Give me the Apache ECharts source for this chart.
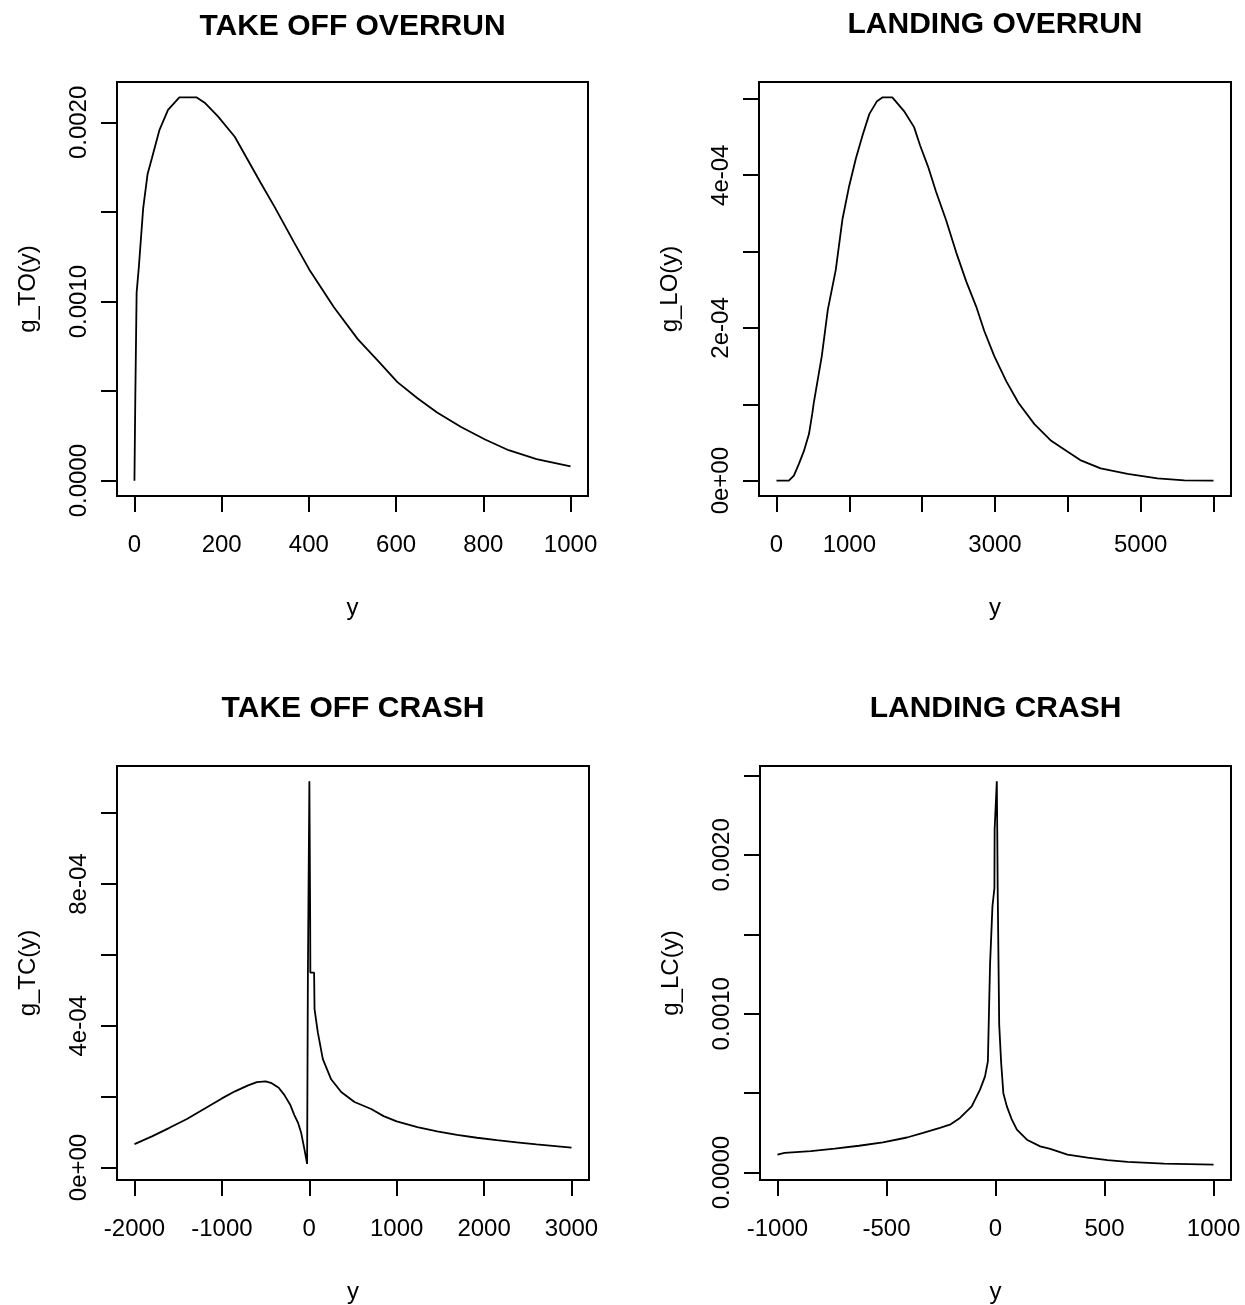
<!DOCTYPE html>
<html><head><meta charset="utf-8">
<script src="https://cdn.jsdelivr.net/npm/echarts@6/dist/echarts.min.js"></script>
<style>html,body{margin:0;padding:0;background:#fff}#c{width:1245px;height:1305px}</style>
</head><body><div id="c"></div>
<script>
// ---- TAKE OFF OVERRUN ----
const toX = [0, 2, 5, 10, 20, 30, 40, 57, 77, 103, 142, 161, 191, 230, 260, 290, 321, 366, 403, 457, 512, 558, 603, 649, 694, 749, 804, 858, 922, 1000];
const toY = [0, 0.47e-3, 1.05e-3, 1.19e-3, 1.52e-3, 1.71e-3, 1.80e-3, 1.955e-3, 2.07e-3, 2.14e-3, 2.14e-3, 2.11e-3, 2.035e-3, 1.92e-3, 1.79e-3, 1.66e-3, 1.53e-3, 1.33e-3, 1.17e-3, 0.97e-3, 0.79e-3, 0.67e-3, 0.55e-3, 0.46e-3, 0.38e-3, 0.30e-3, 0.23e-3, 0.17e-3, 0.12e-3, 0.08e-3];
const toXTicks = [0, 200, 400, 600, 800, 1000];
const toXLabels = ['0', '200', '400', '600', '800', '1000'];
const toYTicks = [0, 0.0005, 0.0010, 0.0015, 0.0020];
const toYLabelVals = [0, 0.0010, 0.0020];
const toYLabels = ['0.0000', '0.0010', '0.0020'];

// ---- LANDING OVERRUN ----
const loX = [0, 170, 239, 308, 377, 446, 492, 512, 622, 705, 814, 905, 998, 1090, 1181, 1274, 1380, 1458, 1590, 1751, 1889, 1972, 2082, 2192, 2329, 2467, 2605, 2742, 2853, 2990, 3156, 3321, 3541, 3761, 3900, 4170, 4450, 4820, 5230, 5600, 6000];
const loY = [0, 0, 0.066e-4, 0.22e-4, 0.39e-4, 0.61e-4, 0.88e-4, 1.02e-4, 1.63e-4, 2.24e-4, 2.76e-4, 3.42e-4, 3.86e-4, 4.22e-4, 4.52e-4, 4.80e-4, 4.97e-4, 5.02e-4, 5.02e-4, 4.84e-4, 4.63e-4, 4.39e-4, 4.11e-4, 3.78e-4, 3.41e-4, 2.99e-4, 2.61e-4, 2.28e-4, 1.96e-4, 1.63e-4, 1.30e-4, 1.02e-4, 0.74e-4, 0.53e-4, 0.44e-4, 0.27e-4, 0.16e-4, 0.09e-4, 0.03e-4, 0.005e-4, 0];
const loXTicks = [0, 1000, 2000, 3000, 4000, 5000, 6000];
const loXLabelVals = [0, 1000, 3000, 5000];
const loXLabels = ['0', '1000', '3000', '5000'];
const loYTicks = [0, 1e-4, 2e-4, 3e-4, 4e-4, 5e-4];
const loYLabelVals = [0, 2e-4, 4e-4];
const loYLabels = ['0e+00', '2e-04', '4e-04'];

// ---- TAKE OFF CRASH ----
const tcX = [-2000, -1800, -1600, -1400, -1200, -1000, -850, -700, -600, -500, -430, -350, -286, -220, -171, -127, -94, -56, -25, -17, -16, 0, 1, 10, 12, 55, 60, 97, 155, 250, 365, 517, 708, 850, 1000, 1236, 1463, 1690, 1918, 2145, 2372, 2600, 3000];
const tcY = [0.066e-3, 0.088e-3, 0.112e-3, 0.137e-3, 0.166e-3, 0.195e-3, 0.215e-3, 0.232e-3, 0.241e-3, 0.243e-3, 0.238e-3, 0.225e-3, 0.205e-3, 0.178e-3, 0.148e-3, 0.125e-3, 0.099e-3, 0.052e-3, 0.010e-3, 0.008e-3, 0.55e-3, 0.55e-3, 1.09e-3, 0.70e-3, 0.55e-3, 0.55e-3, 0.447e-3, 0.382e-3, 0.306e-3, 0.249e-3, 0.213e-3, 0.185e-3, 0.165e-3, 0.145e-3, 0.130e-3, 0.114e-3, 0.102e-3, 0.092e-3, 0.084e-3, 0.077e-3, 0.071e-3, 0.065e-3, 0.056e-3];
const tcXTicks = [-2000, -1000, 0, 1000, 2000, 3000];
const tcXLabels = ['-2000', '-1000', '0', '1000', '2000', '3000'];
const tcYTicks = [0, 2e-4, 4e-4, 6e-4, 8e-4, 10e-4];
const tcYLabelVals = [0, 4e-4, 8e-4];
const tcYLabels = ['0e+00', '4e-04', '8e-04'];

// ---- LANDING CRASH ----
const lcX = [-1000, -967, -847, -737, -626, -516, -406, -332, -255, -209, -163, -109, -71, -48, -35, -30, -25, -14, -5, -4, 6, 8, 10, 16, 17, 26, 36, 52, 75, 98, 144, 205, 251, 330, 422, 514, 606, 772, 1000];
const lcY = [0.113e-3, 0.124e-3, 0.135e-3, 0.151e-3, 0.169e-3, 0.191e-3, 0.221e-3, 0.250e-3, 0.281e-3, 0.302e-3, 0.344e-3, 0.417e-3, 0.522e-3, 0.606e-3, 0.70e-3, 1.005e-3, 1.309e-3, 1.676e-3, 1.79e-3, 2.16e-3, 2.463e-3, 2.16e-3, 1.79e-3, 1.78e-3, 0.93e-3, 0.69e-3, 0.50e-3, 0.417e-3, 0.333e-3, 0.27e-3, 0.207e-3, 0.165e-3, 0.150e-3, 0.113e-3, 0.095e-3, 0.079e-3, 0.068e-3, 0.056e-3, 0.050e-3];
const lcXTicks = [-1000, -500, 0, 500, 1000];
const lcXLabels = ['-1000', '-500', '0', '500', '1000'];
const lcYTicks = [0, 0.0005, 0.0010, 0.0015, 0.0020, 0.0025];
const lcYLabelVals = [0, 0.0010, 0.0020];
const lcYLabels = ['0.0000', '0.0010', '0.0020'];

const titles = ['TAKE OFF OVERRUN', 'LANDING OVERRUN', 'TAKE OFF CRASH', 'LANDING CRASH'];
const yNames = ['g_TO(y)', 'g_LO(y)', 'g_TC(y)', 'g_LC(y)'];
const xName = 'y';

const FONT = '"Liberation Sans", Arial, Helvetica, sans-serif';
const boxes = [
  {left: 117, top: 82, width: 471, height: 414},
  {left: 759, top: 82, width: 472, height: 414},
  {left: 117, top: 766, width: 472, height: 415},
  {left: 760, top: 766, width: 471, height: 416}
];
const titleTops = [12, 10, 694, 694];

const panels = [
  {x: toX, y: toY, xt: toXTicks, xlv: toXTicks, xl: toXLabels, yt: toYTicks, ylv: toYLabelVals, yl: toYLabels},
  {x: loX, y: loY, xt: loXTicks, xlv: loXLabelVals, xl: loXLabels, yt: loYTicks, ylv: loYLabelVals, yl: loYLabels},
  {x: tcX, y: tcY, xt: tcXTicks, xlv: tcXTicks, xl: tcXLabels, yt: tcYTicks, ylv: tcYLabelVals, yl: tcYLabels},
  {x: lcX, y: lcY, xt: lcXTicks, xlv: lcXTicks, xl: lcXLabels, yt: lcYTicks, ylv: lcYLabelVals, yl: lcYLabels}
];

// R default axis style: data range extended by 4% at each end
function rRange(arr) {
  const mn = Math.min.apply(null, arr), mx = Math.max.apply(null, arr), d = mx - mn;
  return [mn - 0.04 * d, mx + 0.04 * d];
}
function labelFor(vals, texts) {
  return function (v) {
    for (let i = 0; i < vals.length; i++) {
      const tol = Math.abs(vals[vals.length - 1] - vals[0]) * 1e-6 + 1e-12;
      if (Math.abs(v - vals[i]) <= tol) return texts[i];
    }
    return '';
  };
}

const grid = [], xAxis = [], yAxis = [], series = [], title = [];
panels.forEach(function (p, i) {
  const b = boxes[i];
  grid.push({left: b.left, top: b.top, width: b.width, height: b.height, show: true,
    borderColor: '#000', borderWidth: 2, backgroundColor: 'transparent', containLabel: false});
  const xr = rRange(p.x), yr = rRange(p.y);
  xAxis.push({
    type: 'value', gridIndex: i, min: xr[0], max: xr[1], position: 'bottom',
    name: xName, nameLocation: 'middle', nameGap: 100,
    nameTextStyle: {fontFamily: FONT, fontSize: 24, color: '#000'},
    axisLine: {show: false, onZero: false}, splitLine: {show: false},
    axisTick: {show: true, inside: false, length: 16, lineStyle: {color: '#000', width: 2}, customValues: p.xt},
    axisLabel: {show: true, margin: 37, fontFamily: FONT, fontSize: 24, color: '#000',
      customValues: p.xlv, formatter: labelFor(p.xlv, p.xl)}
  });
  yAxis.push({
    type: 'value', gridIndex: i, min: yr[0], max: yr[1], position: 'left',
    name: yNames[i], nameLocation: 'middle', nameGap: 77,
    nameTextStyle: {fontFamily: FONT, fontSize: 24, color: '#000'},
    axisLine: {show: false, onZero: false}, splitLine: {show: false},
    axisTick: {show: true, inside: false, length: 16, lineStyle: {color: '#000', width: 2}, customValues: p.yt},
    axisLabel: {show: true, rotate: 90, margin: 26, fontFamily: FONT, fontSize: 24, color: '#000',
      customValues: p.ylv, formatter: labelFor(p.ylv, p.yl)}
  });
  series.push({
    type: 'line', xAxisIndex: i, yAxisIndex: i, showSymbol: false, symbol: 'none', smooth: false,
    silent: true, animation: false, clip: true,
    lineStyle: {color: '#000', width: 1.8},
    data: p.x.map(function (xv, k) { return [xv, p.y[k]]; })
  });
  title.push({
    text: titles[i], left: b.left + b.width / 2, top: titleTops[i], textAlign: 'center', padding: 0,
    textStyle: {fontFamily: FONT, fontSize: 30, fontWeight: 'bold', color: '#000'}
  });
});

const chart = echarts.init(document.getElementById('c'), null, {renderer: 'canvas', width: 1245, height: 1305});
chart.setOption({
  backgroundColor: '#fff',
  animation: false,
  title: title,
  grid: grid,
  xAxis: xAxis,
  yAxis: yAxis,
  series: series
});
</script>
</body></html>
